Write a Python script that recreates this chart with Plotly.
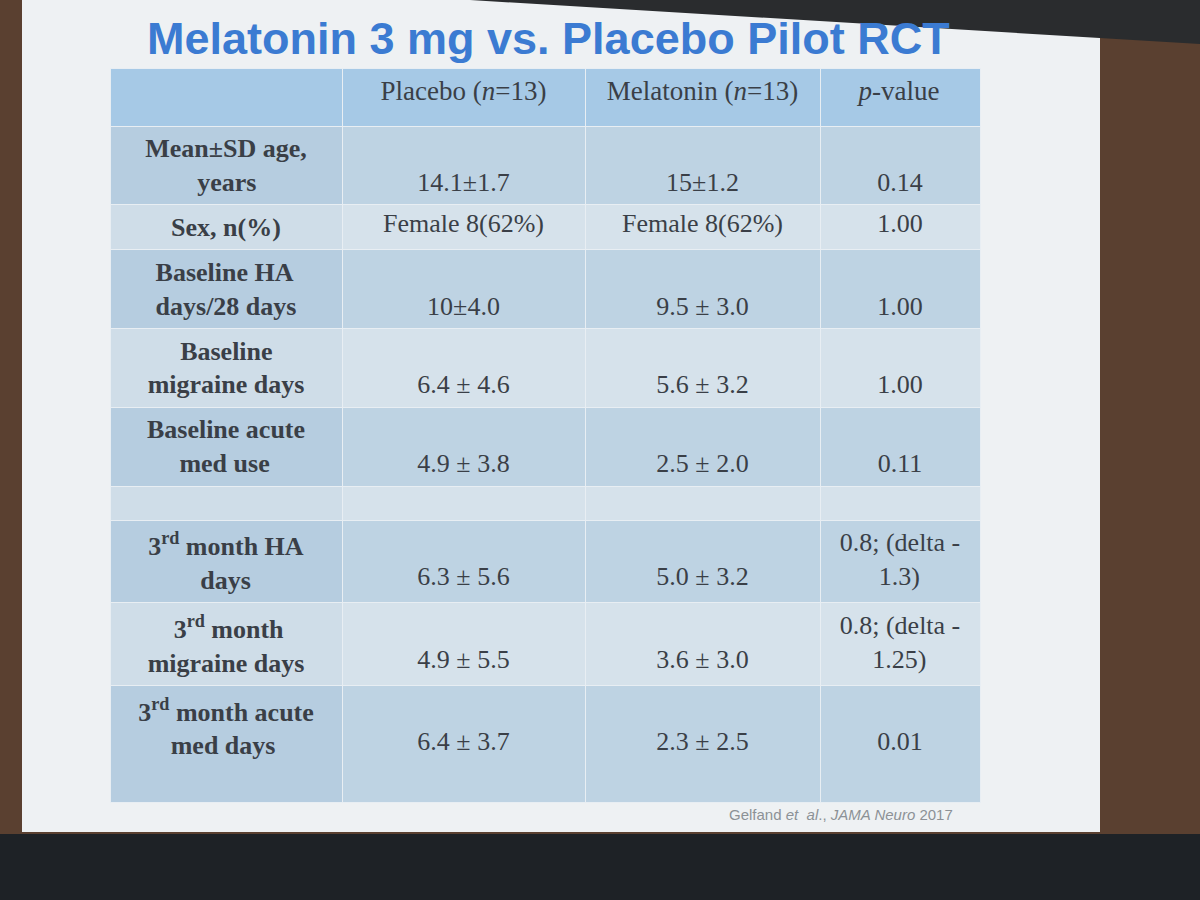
import re
import plotly.graph_objects as go

W, H = 1200, 900

title = "Melatonin 3 mg vs. Placebo Pilot RCT"
col_headers = ["", "Placebo (<i>n</i>=13)", "Melatonin (<i>n</i>=13)", "<i>p</i>-value"]
row_labels = [
    "Mean±SD age,<br>years",
    "Sex, n(%)",
    "Baseline HA<br>days/28 days",
    "Baseline<br>migraine days",
    "Baseline acute<br>med use",
    "",
    "3<sup>rd</sup> month HA<br>days",
    "3<sup>rd</sup> month<br>migraine days",
    "3<sup>rd</sup> month acute<br>med days",
]
placebo = ["14.1±1.7", "Female 8(62%)", "10±4.0", "6.4 ± 4.6", "4.9 ± 3.8", "",
           "6.3 ± 5.6", "4.9 ± 5.5", "6.4 ± 3.7"]
melatonin = ["15±1.2", "Female 8(62%)", "9.5 ± 3.0", "5.6 ± 3.2", "2.5 ± 2.0", "",
             "5.0 ± 3.2", "3.6 ± 3.0", "2.3 ± 2.5"]
p_values = ["0.14", "1.00", "1.00", "1.00", "0.11", "",
            "0.8; (delta -<br>1.3)", "0.8; (delta -<br>1.25)", "0.01"]
source = "Gelfand <i>et  al</i>., <i>JAMA Neuro</i> 2017"

# approximate glyph advance widths (1/1000 em) of Times-like fonts, used only to centre wrapped lines
BOLD = {" ": 250, "\u00a0": 250, "%": 1000, "(": 333, ")": 333, ",": 250, "-": 333, ".": 250, "/": 278,
        ";": 333, "=": 570, "±": 570, "A": 722, "B": 667, "D": 722, "H": 778, "M": 944, "S": 556,
        "a": 500, "c": 444, "d": 556, "e": 444, "g": 500, "h": 556, "i": 278, "l": 278, "m": 833,
        "n": 556, "o": 500, "r": 444, "s": 389, "t": 333, "u": 556, "y": 500}
REG = {" ": 250, "\u00a0": 250, "(": 333, ")": 333, ".": 250, ";": 278, "-": 333, "a": 444,
       "d": 500, "e": 444, "l": 278, "t": 278}
NBSP = "\u00a0"


def text_width(s, table):
    w, scale = 0.0, 1.0
    for tok in re.split(r"(<[^>]+>)", s):
        if tok.startswith("<"):
            if tok == "<sup>":
                scale = 0.7
            elif tok == "</sup>":
                scale = 1.0
            continue
        for ch in tok:
            w += table.get(ch, 500) * scale
    return w


def center_lines(s, table):
    lines = s.split("<br>")
    if len(lines) < 2:
        return s
    ws = [text_width(l, table) for l in lines]
    m = max(ws)
    return "<br>".join(NBSP * int(round((m - w) / 2 / 250)) + l for l, w in zip(lines, ws))


def place(vals):
    # sit single-line values on the second line of two-line rows
    out = []
    for lab, v in zip(row_labels, vals):
        if "<br>" in lab and "<br>" not in v and v:
            out.append(NBSP + "<br>" + v)
        else:
            out.append(center_lines(v, REG))
    return out


labels_b = []
for i, l in enumerate(row_labels):
    if not l:
        labels_b.append("")
        continue
    c = center_lines(l, BOLD)
    c = "<b>" + c.replace("<br>", "</b><br><b>") + "</b>"
    if i == len(row_labels) - 1:
        c += "<br>" + NBSP
    labels_b.append(c)

n = len(row_labels)
band = ["#bed3e3" if i % 2 == 0 else "#d6e2eb" for i in range(n)]
band_first = ["#b6cde0" if i % 2 == 0 else "#cfdde8" for i in range(n)]

fig = go.Figure()
fig.add_trace(go.Table(
    domain=dict(x=[110 / W, 980 / W], y=[0.08, 1 - 68 / H]),
    columnwidth=[232, 243, 235, 160],
    header=dict(
        values=col_headers,
        fill_color="#a6c9e6",
        line=dict(color="#e8eef3", width=1),
        font=dict(family="Liberation Serif", size=27, color="#3a3f47"),
        align="center",
        height=58,
    ),
    cells=dict(
        values=[labels_b, place(placebo), place(melatonin), place(p_values)],
        fill_color=[band_first, band, band, band],
        line=dict(color="#e8eef3", width=1),
        font=dict(family="Liberation Serif", size=26, color="#3a3f47"),
        align="center",
        height=34,
    ),
))


def px(x):
    return x / W


def py(y):
    return 1 - y / H


shapes = [
    dict(type="rect", xref="paper", yref="paper", x0=px(22), x1=px(1100), y0=py(832), y1=py(0),
         fillcolor="#eef1f3", line=dict(width=0), layer="below"),
    dict(type="rect", xref="paper", yref="paper", x0=0, x1=1, y0=0, y1=py(834),
         fillcolor="#1e2226", line=dict(width=0), layer="below"),
    dict(type="path", xref="paper", yref="paper",
         path=f"M {px(470)},{py(0)} L 1,{py(0)} L 1,{py(44)} Z",
         fillcolor="#2a2c2e", line=dict(width=0), layer="below"),
]

fig.update_layout(
    width=W, height=H,
    margin=dict(l=0, r=0, t=0, b=0),
    paper_bgcolor="#5a4030",
    plot_bgcolor="rgba(0,0,0,0)",
    shapes=shapes,
    annotations=[
        dict(text=f"<b>{title}</b>", x=px(548), y=py(38), xref="paper", yref="paper",
             showarrow=False, xanchor="center", yanchor="middle",
             font=dict(family="Liberation Sans", size=45, color="#3b7bd2")),
        dict(text=source, x=px(955), y=py(814), xref="paper", yref="paper",
             showarrow=False, xanchor="right", yanchor="middle",
             font=dict(family="Liberation Sans Narrow, Liberation Sans", size=15, color="#8c9196")),
    ],
)

fig.write_html("out.html", post_script="document.body.style.margin='0';",
               config={"displayModeBar": False})
